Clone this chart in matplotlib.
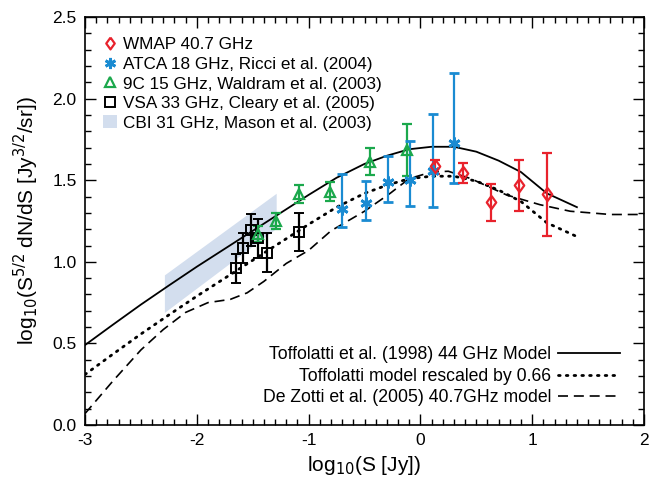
#!/usr/bin/env python3

import numpy as np
import matplotlib
matplotlib.use('Agg')
import matplotlib.pyplot as plt
from matplotlib.lines import Line2D
from matplotlib.patches import Patch
from matplotlib.ticker import MultipleLocator

plt.rcParams['font.family'] = ['Liberation Sans', 'DejaVu Sans']

# WMAP 40.7 GHz
wmap_x = [0.13, 0.38, 0.63, 0.88, 1.13]
wmap_y = [1.585, 1.546, 1.364, 1.471, 1.415]
wmap_lo = [0.045, 0.06, 0.112, 0.158, 0.255]
wmap_hi = [0.04, 0.057, 0.113, 0.153, 0.254]

# ATCA 18 GHz
atca_x = [-0.70, -0.49, -0.29, -0.09, 0.11, 0.30]
atca_y = [1.322, 1.36, 1.488, 1.501, 1.555, 1.728]
atca_lo = [0.109, 0.102, 0.12, 0.159, 0.217, 0.243]
atca_hi = [0.216, 0.134, 0.158, 0.24, 0.35, 0.427]

# 9C 15 GHz
ninec_x = [-1.45, -1.29, -1.09, -0.81, -0.45, -0.117]
ninec_y = [1.17, 1.25, 1.415, 1.43, 1.613, 1.685]
ninec_err = [0.05, 0.05, 0.055, 0.06, 0.082, 0.158]

# VSA 33 GHz
vsa_x = [-1.652, -1.584, -1.518, -1.455, -1.375, -1.089]
vsa_y = [0.96, 1.086, 1.195, 1.145, 1.056, 1.185]
vsa_err = [0.09, 0.093, 0.1, 0.12, 0.121, 0.116]

# CBI 31 GHz band
cbi_x = [-2.29, -1.29]
cbi_lo = [0.69, 1.205]
cbi_hi = [0.92, 1.42]

# Toffolatti et al. (1998) 44 GHz model
toff_x = [-3.0, -2.75, -2.5, -2.25, -2.0, -1.75, -1.5, -1.25, -1.0, -0.75, -0.5,
          -0.3, -0.1, 0.1, 0.3, 0.5, 0.7, 0.9, 1.13, 1.4]
toff_y = [0.49, 0.615, 0.738, 0.855, 0.97, 1.08, 1.19, 1.3, 1.41, 1.515, 1.6,
          1.65, 1.69, 1.705, 1.705, 1.675, 1.62, 1.55, 1.42, 1.335]
rescale = 0.66

# De Zotti et al. (2005) 40.7 GHz model
dz_x = [-3.0, -2.75, -2.5, -2.3, -2.1, -1.9, -1.7, -1.55, -1.4, -1.2, -1.0, -0.8,
        -0.5, -0.27, -0.1, 0.1, 0.25, 0.45, 0.77, 1.07, 1.34, 1.7, 2.0]
dz_y = [0.07, 0.27, 0.46, 0.585, 0.69, 0.75, 0.77, 0.81, 0.88, 0.99, 1.07, 1.19,
        1.31, 1.42, 1.51, 1.55, 1.555, 1.51, 1.41, 1.35, 1.31, 1.29, 1.29]

RED = '#e8222c'
BLUE = '#1a8bd2'
GREEN = '#1ba84c'
BAND = '#d3deee'

# slightly tall open diamond
DIAMOND = [(0, 1), (0.72, 0), (0, -1), (-0.72, 0), (0, 1)]


def main():
    fig = plt.figure(figsize=(6.52, 4.87), dpi=100)
    ax = fig.add_axes([0.1304, 0.1273, 0.8573, 0.8377])

    ax.fill_between(cbi_x, cbi_lo, cbi_hi, color=BAND, lw=0, zorder=1)

    l1, = ax.plot(toff_x, toff_y, color='black', lw=1.3, zorder=2)
    l2, = ax.plot(toff_x, np.array(toff_y) + np.log10(rescale), color='black',
                  lw=2.0, ls=(0, (0.6, 2.2)), dash_capstyle='round', zorder=2)
    l3, = ax.plot(dz_x, dz_y, color='black', lw=1.2, ls=(0, (6, 3.5)), zorder=2)

    ekw = dict(capsize=3.5, elinewidth=1.6, capthick=1.6, ls='none', zorder=3)
    ax.errorbar(vsa_x, vsa_y, yerr=vsa_err, color='black', marker='s', ms=7,
                mfc='none', mew=1.4, **ekw)
    ax.errorbar(ninec_x, ninec_y, yerr=ninec_err, color=GREEN, marker='^', ms=7,
                mfc='none', mew=1.6, **ekw)
    ax.errorbar(atca_x, atca_y, yerr=[atca_lo, atca_hi], color=BLUE, marker=(6, 2, 0),
                ms=8.5, mew=2.0, **ekw)
    ax.errorbar(wmap_x, wmap_y, yerr=[wmap_lo, wmap_hi], color=RED, marker=DIAMOND, ms=9.5,
                mfc='none', mew=1.6, **ekw)

    ax.set_xlim(-3, 2)
    ax.set_ylim(0, 2.5)
    ax.xaxis.set_major_locator(MultipleLocator(1))
    ax.xaxis.set_minor_locator(MultipleLocator(0.1))
    ax.yaxis.set_major_locator(MultipleLocator(0.5))
    ax.yaxis.set_minor_locator(MultipleLocator(0.1))
    ax.xaxis.set_major_formatter(plt.FuncFormatter(lambda v, p: f'{v:.0f}'))
    ax.yaxis.set_major_formatter(plt.FuncFormatter(lambda v, p: f'{v:.1f}'))
    ax.tick_params(which='both', direction='in', top=True, right=True, labelsize=12.5, width=1)
    ax.tick_params(which='major', length=8, pad=6)
    ax.tick_params(which='minor', length=4)
    for s in ax.spines.values():
        s.set_linewidth(1.2)

    ax.set_xlabel(r'log$_{10}$(S [Jy])', fontsize=15, labelpad=4)
    ax.set_ylabel(r'log$_{10}$(S$^{5/2}$ dN/dS [Jy$^{3/2}$/sr])', fontsize=15, labelpad=8)

    handles = [
        Line2D([], [], color=RED, marker=DIAMOND, ms=8.5, mfc='none', mew=1.6, ls='none'),
        Line2D([], [], color=BLUE, marker=(6, 2, 0), ms=8, mew=2.0, ls='none'),
        Line2D([], [], color=GREEN, marker='^', ms=7, mfc='none', mew=1.6, ls='none'),
        Line2D([], [], color='black', marker='s', ms=7, mfc='none', mew=1.4, ls='none'),
        Patch(color=BAND, lw=0),
    ]
    labels = ['WMAP 40.7 GHz', 'ATCA 18 GHz, Ricci et al. (2004)',
              '9C 15 GHz, Waldram et al. (2003)', 'VSA 33 GHz, Cleary et al. (2005)',
              'CBI 31 GHz, Mason et al. (2003)']
    leg1 = ax.legend(handles, labels, loc='upper left', bbox_to_anchor=(0.0197, 0.968),
                     frameon=False, fontsize=12.3, handlelength=0.8, handleheight=0.8,
                     handletextpad=0.4, labelspacing=0.24, borderaxespad=0)
    ax.add_artist(leg1)

    ax.legend([l1, l2, l3], ['Toffolatti et al. (1998) 44 GHz Model',
                             'Toffolatti model rescaled by 0.66',
                             'De Zotti et al. (2005) 40.7GHz model'],
              loc='lower right', bbox_to_anchor=(0.9696, 0.029), frameon=False,
              fontsize=12.7, markerfirst=False, handlelength=3.5, handletextpad=0.4,
              labelspacing=0.25, borderaxespad=0)

    fig.savefig('out.png', dpi=100)


if __name__ == '__main__':
    main()
